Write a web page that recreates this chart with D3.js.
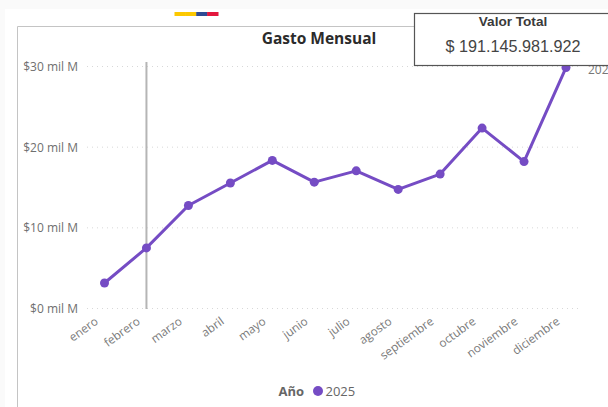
<!DOCTYPE html>
<html><head><meta charset="utf-8">
<script src="https://cdn.jsdelivr.net/npm/d3@7/dist/d3.min.js"></script>
<style>html,body{margin:0;padding:0;background:#fff;overflow:hidden}svg{display:block}text{font-family:"Open Sans","Noto Sans",sans-serif}</style>
</head><body><svg id="c" width="608" height="407"></svg>
<script>
const months = ["enero","febrero","marzo","abril","mayo","junio","julio","agosto","septiembre","octubre","noviembre","diciembre"];
const gasto = [3.1,7.45,12.7,15.5,18.3,15.6,17.0,14.7,16.6,22.3,18.15,29.8];
const yTicks = [0,10,20,30];
const flagColors = ["#fcc800","#fcc800","#2f4b94","#e3173e"];
const seriesName = "2025";
const svg = d3.select("#c");
const x = d3.scalePoint().domain(months).range([104.5,566]);
const y = d3.scaleLinear().domain([0,30]).range([308,66]);
const purple = "#754cc4";

svg.append("rect").attr("x",0).attr("y",0).attr("width",608).attr("height",9).attr("fill","#fafafa");
svg.append("rect").attr("x",0).attr("y",9).attr("width",5).attr("height",398).attr("fill","#fafafa");

const fx = d3.scaleBand().domain(d3.range(flagColors.length)).range([174.5,218]).padding(0);
svg.selectAll(".flag").data(flagColors).join("rect").attr("class","flag")
  .attr("x",(d,i)=>fx(i)).attr("y",12).attr("width",fx.bandwidth()+.5).attr("height",4).attr("fill",d=>d);

svg.append("path").attr("d","M17.5,407V26.5H416").attr("fill","none").attr("stroke","#c4c4c4").attr("stroke-width",1);

svg.append("text").attr("x",319).attr("y",44).attr("text-anchor","middle")
  .attr("font-size",15.5).attr("font-weight",700).attr("fill","#2b2b2b").text("Gasto Mensual");

const yAxis = d3.axisLeft(y).tickValues(yTicks).tickSize(0).tickPadding(0).tickFormat(d=>`$${d} mil M`);
const gy = svg.append("g").attr("transform","translate(78,0.5)").call(yAxis);
gy.select(".domain").remove();
gy.selectAll("text").attr("font-size",12).attr("fill","#6f6f6f").attr("font-family","'Open Sans',sans-serif");

svg.append("g").selectAll("line").data(yTicks).join("line")
  .attr("x1",87).attr("x2",581).attr("y1",d=>y(d)+.5).attr("y2",d=>y(d)+.5)
  .attr("stroke","#d8d8d8").attr("stroke-width",1).attr("stroke-dasharray","1 4");

svg.append("line").attr("x1",x("febrero")).attr("x2",x("febrero")).attr("y1",62).attr("y2",309)
  .attr("stroke","#b5b5b5").attr("stroke-width",2);

const xAxis = d3.axisBottom(x).tickSize(0).tickPadding(0);
const gx = svg.append("g").attr("transform","translate(0,308)").call(xAxis);
gx.select(".domain").remove();
gx.selectAll("text").attr("font-size",11.8).attr("fill","#7a7a7a").attr("font-family","'Open Sans',sans-serif")
  .attr("text-anchor","end").attr("dy",0).attr("y",0)
  .attr("transform","translate(-6,15) rotate(-36)");

const line = d3.line().x((d,i)=>x(months[i])).y(d=>y(d));
svg.append("path").datum(gasto).attr("d",line).attr("fill","none").attr("stroke",purple)
  .attr("stroke-width",3).attr("stroke-linejoin","round");
svg.append("g").selectAll("circle").data(gasto).join("circle")
  .attr("cx",(d,i)=>x(months[i])).attr("cy",d=>y(d)).attr("r",4.5).attr("fill",purple);

svg.append("text").attr("x",x("diciembre")+22).attr("y",y(gasto[11])+6)
  .attr("font-size",12).attr("fill","#777").text(seriesName);

svg.append("rect").attr("x",414.5).attr("y",13.5).attr("width",200).attr("height",52)
  .attr("fill","#fff").attr("stroke","#555").attr("stroke-width",1.2);
svg.append("text").attr("x",513).attr("y",26).attr("text-anchor","middle").attr("font-size",13.6)
  .attr("font-weight",700).attr("fill","#3a3a3a").style("font-family","'Liberation Sans',sans-serif").text("Valor Total");
svg.append("text").attr("x",513).attr("y",52).attr("text-anchor","middle").attr("font-size",16.2)
  .attr("fill","#444").style("font-family","'Liberation Sans',sans-serif").text("$ 191.145.981.922");

svg.append("text").attr("x",304).attr("y",396).attr("text-anchor","end").attr("font-size",13)
  .attr("font-weight",700).attr("fill","#666").text("Año");
svg.append("circle").attr("cx",318).attr("cy",391).attr("r",5).attr("fill",purple);
svg.append("text").attr("x",325.5).attr("y",396).attr("font-size",13).attr("fill","#666").text(seriesName);
</script></body></html>
